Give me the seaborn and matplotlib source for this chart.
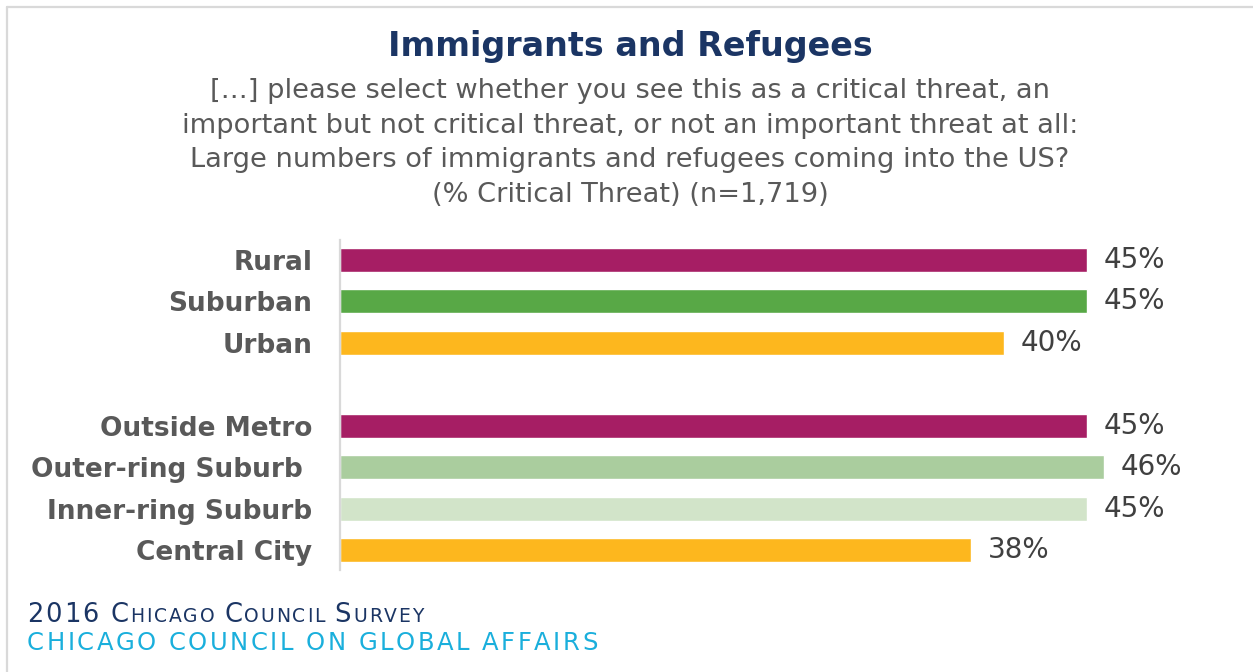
import matplotlib
matplotlib.use("Agg")
import matplotlib.pyplot as plt
from matplotlib.lines import Line2D
import seaborn as sns
import pandas as pd

# Data
categories_place = ["Rural", "Suburban", "Urban"]
categories_metro = ["Outside Metro", "Outer-ring Suburb ", "Inner-ring Suburb", "Central City"]
values_place = [45, 45, 40]
values_metro = [45, 46, 45, 38]
bar_colors = ["#A61E64", "#58A846", "#FDB71E",
              "#A61E64", "#AACD9E", "#D2E4C9", "#FDB71E"]

title = "Immigrants and Refugees"
subtitle_lines = [
    "[…] please select whether you see this as a critical threat, an",
    "important but not critical threat, or not an important threat at all:",
    "Large numbers of immigrants and refugees coming into the US?",
    "(% Critical Threat) (n=1,719)",
]
footer_line1 = "2016 Chicago Council Survey"
footer_line2 = "CHICAGO COUNCIL ON GLOBAL AFFAIRS"

sns.set_theme(style="white")
plt.rcParams["font.family"] = ["DejaVu Sans"]

W, H = 1253, 672
fig = plt.figure(figsize=(W / 100, H / 100), dpi=100)
fig.patch.set_facecolor("white")

categories = categories_place + categories_metro
values = values_place + values_metro
df = pd.DataFrame({"category": categories, "value": values})
spacer = " "
order = categories_place + [spacer] + categories_metro
palette = dict(zip(categories, bar_colors))

# Axes placed so the zero line sits at x=340px and bars span y=240..570px
ax_left, ax_right = 340, 1170
ax_top, ax_bottom = 240, 570
ax = fig.add_axes([ax_left / W, 1 - ax_bottom / H,
                   (ax_right - ax_left) / W, (ax_bottom - ax_top) / H])

sns.barplot(data=df, x="value", y="category", hue="category", order=order,
            hue_order=categories, palette=palette, orient="h", width=0.58,
            saturation=1, legend=False, ax=ax)

pad_slot = 20 / 41.43
ax.set_ylim(len(order) - 1 + pad_slot, -pad_slot)
ax.set_xlim(0, 50)
ax.set_xlabel("")
ax.set_ylabel("")
ax.set_xticks([])
for s in ["top", "right", "bottom"]:
    ax.spines[s].set_visible(False)
ax.spines["left"].set_color("#D9D9D9")
ax.spines["left"].set_linewidth(1.6)
ax.tick_params(axis="y", length=0, pad=20, labelsize=19, labelcolor="#595959")
for lab in ax.get_yticklabels():
    lab.set_fontweight("bold")

for cont in ax.containers:
    ax.bar_label(cont, fmt="{:.0f}%", padding=12, fontsize=20, color="#404040")

# Title and question text
fig.text(630 / W, 1 - 56 / H, title, ha="center", va="baseline",
         fontsize=24, fontweight="bold", color="#1B3564")
for yy, line in zip([98.5, 133, 167.3, 201.6], subtitle_lines):
    fig.text(630 / W, 1 - yy / H, line, ha="center", va="baseline",
             fontsize=19.6, color="#595959")

# Footer text, drawn glyph by glyph with extra tracking
fig.canvas.draw()
renderer = fig.canvas.get_renderer()


def draw_tracked(x, baseline, pieces, color, tracking):
    for txt, size in pieces:
        for ch in txt:
            t = fig.text(x / W, 1 - baseline / H, ch, ha="left", va="baseline",
                         fontsize=size, color=color)
            if ch == " ":
                x += size * 100 / 72 * 0.318 + tracking
            else:
                bb = t.get_window_extent(renderer=renderer)
                x = bb.x1 + tracking
    return x


big, small = 18.5, 13.5
pieces1 = []
words = footer_line1.split(" ")
for i, word in enumerate(words):
    sep = " " if i < len(words) - 1 else ""
    if word.isdigit():
        pieces1.append((word + sep, big))
    else:
        pieces1.append((word[0], big))
        pieces1.append((word[1:].upper() + sep, small))
draw_tracked(27, 621.7, pieces1, "#1B3564", 1.9)
draw_tracked(27, 650, [(footer_line2, 17.5)], "#1AAFDC", 2.5)

# Thin frame on the top and left edges
fig.add_artist(Line2D([6.5 / W, 6.5 / W], [0, 1 - 6.5 / H], transform=fig.transFigure,
                      color="#D9D9D9", lw=1.6))
fig.add_artist(Line2D([6.5 / W, 1], [1 - 6.5 / H, 1 - 6.5 / H], transform=fig.transFigure,
                      color="#D9D9D9", lw=1.6))

fig.savefig("out.png", dpi=100, facecolor="white")
